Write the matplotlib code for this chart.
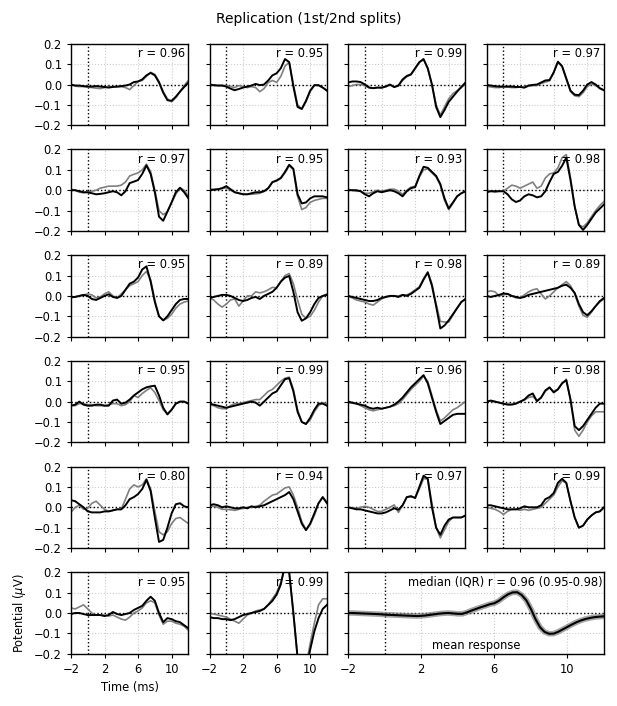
import numpy as np
import matplotlib
matplotlib.use("Agg")
import matplotlib.pyplot as plt

# time axis of the split averages (ms)
t = np.arange(-2, 12.01, 0.5)
t_mean = np.arange(-2, 12.01, 0.25)

r_values = [0.96, 0.95, 0.99, 0.97,
            0.97, 0.95, 0.93, 0.98,
            0.95, 0.89, 0.98, 0.89,
            0.95, 0.99, 0.96, 0.98,
            0.80, 0.94, 0.97, 0.99,
            0.95, 0.99]

# first split (gray) / second split (black), uV
s1_01 = [0.000, -0.008, -0.010, -0.010, -0.012, -0.015, -0.018, -0.020, -0.015, -0.012, -0.010, -0.012, -0.010, -0.015, -0.025, -0.005, 0.015, 0.020, 0.040, 0.060, 0.050, 0.015, -0.035, -0.070, -0.085, -0.065, -0.035, -0.005, 0.020]
s2_01 = [0.000, -0.005, -0.005, -0.008, -0.010, -0.010, -0.008, -0.010, -0.012, -0.015, -0.012, -0.010, -0.008, -0.005, 0.000, 0.012, 0.015, 0.025, 0.045, 0.057, 0.045, 0.010, -0.040, -0.077, -0.080, -0.060, -0.035, -0.012, 0.010]
s1_02 = [-0.005, -0.005, -0.005, -0.005, -0.005, -0.010, -0.015, -0.005, -0.010, -0.015, -0.010, -0.015, -0.035, -0.020, 0.010, 0.020, 0.010, 0.040, 0.090, 0.110, 0.000, -0.100, -0.120, -0.085, -0.035, -0.005, -0.005, -0.015, -0.030]
s2_02 = [0.000, -0.003, -0.005, -0.005, -0.010, -0.020, -0.028, -0.022, -0.015, -0.010, -0.005, 0.003, -0.003, 0.000, 0.020, 0.045, 0.055, 0.080, 0.125, 0.110, -0.010, -0.110, -0.120, -0.080, -0.030, -0.003, -0.003, -0.015, -0.030]
s1_03 = [-0.010, -0.005, 0.000, 0.000, -0.005, -0.015, -0.018, -0.015, -0.018, -0.010, -0.002, -0.010, -0.008, 0.020, 0.038, 0.048, 0.078, 0.108, 0.123, 0.078, 0.000, -0.100, -0.150, -0.110, -0.070, -0.045, -0.030, -0.015, 0.000]
s2_03 = [0.010, 0.015, 0.015, 0.012, 0.000, -0.015, -0.018, -0.015, -0.015, -0.010, 0.000, -0.013, -0.005, 0.025, 0.042, 0.050, 0.080, 0.110, 0.125, 0.080, 0.000, -0.110, -0.160, -0.125, -0.085, -0.060, -0.035, -0.012, 0.010]
s1_04 = [-0.008, -0.012, -0.015, -0.015, -0.012, -0.012, -0.015, -0.015, -0.012, -0.015, -0.008, -0.005, -0.005, 0.005, 0.012, 0.018, 0.058, 0.110, 0.088, 0.025, -0.035, -0.055, -0.060, -0.040, -0.010, 0.002, -0.005, -0.020, -0.030]
s2_04 = [-0.002, -0.005, -0.008, -0.010, -0.010, -0.010, -0.010, -0.012, -0.012, -0.015, -0.005, -0.002, 0.000, 0.010, 0.020, 0.022, 0.060, 0.112, 0.090, 0.030, -0.030, -0.050, -0.052, -0.030, 0.000, 0.012, 0.000, -0.018, -0.028]
s1_05 = [0.005, 0.000, -0.010, -0.012, -0.010, -0.005, 0.000, 0.010, 0.015, 0.020, 0.020, 0.020, 0.025, 0.040, 0.070, 0.078, 0.085, 0.100, 0.128, 0.090, 0.000, -0.100, -0.120, -0.105, -0.060, -0.020, 0.012, 0.000, -0.030]
s2_05 = [0.000, 0.000, -0.005, -0.010, -0.010, -0.015, -0.020, -0.018, -0.015, -0.010, -0.005, -0.010, -0.025, -0.005, 0.035, 0.042, 0.050, 0.080, 0.122, 0.080, -0.010, -0.130, -0.150, -0.105, -0.060, -0.010, 0.012, -0.010, -0.040]
s1_06 = [0.005, 0.005, 0.005, 0.008, 0.012, 0.000, -0.010, -0.015, -0.018, -0.020, -0.020, -0.018, -0.015, -0.005, 0.010, 0.038, 0.045, 0.058, 0.085, 0.120, 0.100, -0.030, -0.095, -0.085, -0.060, -0.050, -0.045, -0.040, -0.040]
s2_06 = [0.000, 0.002, 0.005, 0.010, 0.020, 0.005, -0.010, -0.015, -0.020, -0.020, -0.015, -0.010, -0.010, -0.005, 0.010, 0.040, 0.048, 0.060, 0.090, 0.125, 0.105, -0.020, -0.065, -0.060, -0.040, -0.030, -0.030, -0.030, -0.035]
s1_07 = [0.005, 0.000, -0.005, -0.005, -0.015, -0.015, -0.008, 0.000, -0.005, 0.000, 0.005, 0.005, -0.005, -0.020, 0.000, 0.015, 0.020, 0.065, 0.100, 0.105, 0.085, 0.065, 0.025, -0.050, -0.095, -0.065, -0.030, -0.015, -0.005]
s2_07 = [0.000, 0.000, 0.000, -0.005, -0.020, -0.030, -0.015, -0.005, -0.010, -0.005, 0.000, -0.005, -0.015, -0.030, -0.005, 0.010, 0.015, 0.070, 0.115, 0.110, 0.090, 0.070, 0.030, -0.040, -0.090, -0.060, -0.030, -0.015, -0.005]
s1_08 = [0.000, -0.005, -0.010, -0.005, -0.005, 0.010, 0.025, 0.020, 0.010, 0.020, 0.030, 0.040, 0.010, 0.020, 0.060, 0.080, 0.085, 0.110, 0.160, 0.175, 0.060, -0.080, -0.170, -0.180, -0.160, -0.130, -0.100, -0.075, -0.055]
s2_08 = [-0.010, -0.005, -0.005, -0.005, -0.005, -0.020, -0.045, -0.058, -0.050, -0.030, -0.020, -0.025, -0.035, -0.030, -0.005, 0.040, 0.080, 0.090, 0.120, 0.160, 0.050, -0.080, -0.170, -0.195, -0.170, -0.140, -0.110, -0.090, -0.070]
s1_09 = [-0.010, -0.005, 0.000, 0.005, 0.010, 0.005, -0.010, -0.005, 0.010, 0.020, 0.000, -0.010, 0.010, 0.030, 0.050, 0.060, 0.070, 0.100, 0.120, 0.080, -0.020, -0.100, -0.120, -0.110, -0.090, -0.060, -0.040, -0.030, -0.025]
s2_09 = [-0.005, -0.005, 0.000, 0.005, 0.000, -0.015, -0.020, -0.010, 0.000, 0.008, -0.005, -0.010, 0.000, 0.030, 0.060, 0.070, 0.090, 0.130, 0.145, 0.070, -0.030, -0.100, -0.120, -0.100, -0.070, -0.040, -0.020, -0.015, -0.015]
s1_10 = [-0.010, -0.020, -0.040, -0.055, -0.040, -0.020, -0.015, -0.050, -0.025, 0.000, 0.000, 0.020, 0.015, 0.020, 0.030, 0.042, 0.040, 0.070, 0.100, 0.110, 0.060, -0.020, -0.090, -0.110, -0.100, -0.070, -0.030, 0.000, 0.010]
s2_10 = [-0.010, -0.005, 0.000, 0.005, 0.005, 0.000, -0.010, -0.020, -0.025, -0.020, -0.010, -0.005, -0.015, 0.000, 0.010, 0.020, 0.040, 0.070, 0.090, 0.098, 0.020, -0.080, -0.122, -0.110, -0.080, -0.040, -0.010, 0.000, 0.005]
s1_11 = [0.000, -0.010, -0.020, -0.025, -0.030, -0.040, -0.045, -0.030, -0.015, -0.005, 0.000, 0.000, 0.000, 0.005, 0.005, 0.015, 0.030, 0.045, 0.085, 0.118, 0.060, -0.040, -0.125, -0.128, -0.128, -0.095, -0.060, -0.030, -0.015]
s2_11 = [0.000, -0.005, -0.010, -0.015, -0.020, -0.025, -0.025, -0.020, -0.010, -0.005, 0.000, 0.000, -0.005, 0.005, 0.000, 0.010, 0.025, 0.040, 0.080, 0.115, 0.050, -0.050, -0.160, -0.145, -0.120, -0.090, -0.060, -0.030, -0.015]
s1_12 = [0.020, 0.025, 0.020, 0.000, 0.005, 0.010, 0.000, -0.010, -0.010, 0.005, 0.020, 0.030, 0.035, 0.010, -0.015, 0.000, 0.020, 0.040, 0.055, 0.070, 0.050, 0.010, -0.050, -0.095, -0.105, -0.080, -0.050, -0.030, -0.015]
s2_12 = [0.000, -0.005, 0.000, 0.005, 0.012, 0.010, 0.000, -0.005, -0.010, -0.005, 0.005, 0.010, 0.015, 0.020, 0.025, 0.030, 0.035, 0.040, 0.050, 0.055, 0.040, 0.015, -0.040, -0.080, -0.095, -0.075, -0.050, -0.025, -0.010]
s1_13 = [-0.020, -0.020, -0.010, -0.010, -0.015, -0.015, -0.020, -0.020, -0.020, -0.015, -0.010, -0.010, -0.020, -0.015, 0.000, 0.030, 0.020, 0.040, 0.055, 0.068, 0.045, 0.005, -0.040, -0.060, -0.040, -0.010, 0.000, 0.000, -0.010]
s2_13 = [-0.020, -0.015, 0.000, -0.015, -0.020, -0.020, -0.015, -0.015, -0.020, -0.020, 0.005, 0.010, -0.010, -0.005, 0.010, 0.030, 0.045, 0.060, 0.070, 0.075, 0.078, 0.030, -0.030, -0.063, -0.040, -0.010, 0.000, 0.000, -0.010]
s1_14 = [-0.015, -0.020, -0.030, -0.035, -0.035, -0.020, -0.010, -0.010, -0.005, 0.000, 0.005, 0.010, 0.010, 0.030, 0.050, 0.060, 0.080, 0.100, 0.115, 0.120, 0.060, -0.040, -0.100, -0.110, -0.090, -0.050, -0.020, -0.005, -0.010]
s2_14 = [-0.010, -0.015, -0.020, -0.025, -0.030, -0.025, -0.020, -0.015, -0.010, -0.005, 0.000, -0.005, -0.020, 0.000, 0.020, 0.040, 0.050, 0.080, 0.110, 0.115, 0.050, -0.050, -0.100, -0.110, -0.080, -0.040, -0.010, -0.010, -0.020]
s1_15 = [-0.005, -0.008, -0.010, -0.020, -0.030, -0.040, -0.045, -0.040, -0.035, -0.030, -0.025, -0.020, -0.010, 0.010, 0.035, 0.060, 0.080, 0.100, 0.125, 0.100, 0.030, -0.040, -0.095, -0.080, -0.060, -0.040, -0.030, -0.015, 0.000]
s2_15 = [0.000, -0.005, -0.010, -0.015, -0.020, -0.030, -0.035, -0.030, -0.035, -0.030, -0.025, -0.015, 0.000, 0.020, 0.045, 0.070, 0.090, 0.110, 0.130, 0.090, 0.020, -0.050, -0.110, -0.095, -0.080, -0.065, -0.060, -0.060, -0.060]
s1_16 = [0.000, 0.005, 0.000, -0.005, -0.010, -0.012, -0.012, -0.008, 0.000, 0.008, 0.020, 0.025, 0.005, 0.020, 0.050, 0.068, 0.050, 0.062, 0.090, 0.110, 0.010, -0.140, -0.170, -0.140, -0.100, -0.070, -0.050, -0.050, -0.050]
s2_16 = [0.000, 0.005, 0.000, -0.005, -0.010, -0.015, -0.015, -0.010, 0.000, 0.010, 0.030, 0.040, 0.002, 0.020, 0.055, 0.070, 0.045, 0.060, 0.090, 0.105, 0.010, -0.120, -0.140, -0.120, -0.090, -0.060, -0.030, -0.010, -0.010]
s1_17 = [-0.025, 0.000, 0.010, -0.010, -0.005, 0.020, 0.030, 0.010, -0.010, -0.020, -0.015, -0.010, -0.010, 0.040, 0.090, 0.110, 0.100, 0.110, 0.140, 0.090, -0.020, -0.120, -0.135, -0.120, -0.080, -0.055, -0.050, -0.065, -0.080]
s2_17 = [0.035, 0.030, 0.015, 0.000, -0.020, -0.025, -0.025, -0.025, -0.020, -0.020, -0.015, -0.010, -0.010, 0.010, 0.040, 0.050, 0.065, 0.090, 0.135, 0.080, -0.050, -0.170, -0.160, -0.100, -0.030, 0.015, 0.020, 0.005, 0.000]
s1_18 = [0.005, 0.005, 0.000, -0.010, -0.010, -0.012, -0.015, -0.010, -0.005, 0.000, 0.000, 0.005, 0.010, 0.030, 0.045, 0.060, 0.065, 0.080, 0.095, 0.100, 0.060, 0.000, -0.070, -0.110, -0.085, -0.040, 0.020, 0.050, 0.025]
s2_18 = [0.010, 0.015, 0.010, 0.000, 0.005, 0.000, -0.005, -0.005, 0.000, -0.005, 0.005, 0.000, 0.005, 0.010, 0.020, 0.030, 0.040, 0.050, 0.060, 0.075, 0.040, -0.020, -0.080, -0.112, -0.080, -0.030, 0.020, 0.050, 0.020]
s1_19 = [0.000, -0.002, -0.005, 0.000, 0.005, 0.000, -0.010, -0.020, -0.020, -0.010, 0.000, 0.012, -0.025, 0.010, 0.050, 0.050, 0.050, 0.090, 0.140, 0.140, 0.020, -0.100, -0.150, -0.110, -0.070, -0.050, -0.050, -0.050, -0.040]
s2_19 = [0.000, -0.005, -0.010, -0.010, -0.015, -0.020, -0.025, -0.030, -0.030, -0.025, -0.015, -0.005, -0.012, 0.010, 0.050, 0.055, 0.045, 0.100, 0.155, 0.140, 0.000, -0.100, -0.135, -0.090, -0.060, -0.050, -0.050, -0.050, -0.040]
s1_20 = [0.000, -0.005, -0.010, -0.020, -0.035, -0.020, -0.010, -0.010, -0.015, -0.010, -0.015, -0.010, -0.005, 0.000, 0.020, 0.040, 0.060, 0.100, 0.130, 0.120, 0.030, -0.050, -0.100, -0.090, -0.060, -0.040, -0.025, -0.020, 0.000]
s2_20 = [0.010, 0.010, 0.005, 0.000, -0.005, -0.010, -0.010, -0.010, -0.005, 0.005, 0.000, 0.000, 0.000, 0.010, 0.040, 0.050, 0.070, 0.120, 0.140, 0.120, 0.030, -0.050, -0.100, -0.090, -0.060, -0.040, -0.025, -0.020, 0.000]
s1_21 = [0.025, 0.020, 0.030, 0.040, 0.020, 0.000, -0.010, -0.010, -0.010, -0.015, -0.010, -0.020, -0.030, -0.035, -0.020, 0.000, 0.010, 0.025, 0.050, 0.060, 0.050, -0.010, -0.055, -0.040, -0.040, -0.050, -0.055, -0.065, -0.085]
s2_21 = [-0.005, 0.000, 0.000, -0.005, -0.010, -0.010, -0.010, -0.010, -0.015, -0.010, 0.005, -0.005, -0.010, -0.005, 0.000, 0.015, 0.025, 0.035, 0.060, 0.080, 0.060, 0.000, -0.045, -0.025, -0.030, -0.040, -0.045, -0.060, -0.075]
s1_22 = [0.000, -0.005, -0.010, -0.015, -0.020, -0.030, -0.040, -0.050, -0.030, -0.010, 0.000, 0.010, 0.015, 0.020, 0.040, 0.070, 0.100, 0.150, 0.220, 0.200, 0.000, -0.220, -0.300, -0.260, -0.150, -0.050, 0.040, 0.070, 0.070]
s2_22 = [-0.020, -0.025, -0.025, -0.030, -0.030, -0.035, -0.030, -0.020, -0.010, -0.005, 0.000, 0.005, 0.010, 0.020, 0.040, 0.060, 0.090, 0.140, 0.240, 0.200, 0.000, -0.220, -0.320, -0.280, -0.180, -0.090, -0.025, 0.020, 0.040]

mean_resp = [0.000, 0.000, -0.001, -0.002, -0.003, -0.004, -0.005, -0.006, -0.008, -0.009,
             -0.010, -0.011, -0.012, -0.013, -0.014, -0.015, -0.014, -0.012, -0.009, -0.006,
             -0.003, -0.001, 0.000, -0.002, -0.004, -0.004, 0.003, 0.012, 0.020, 0.028,
             0.035, 0.043, 0.048, 0.060, 0.077, 0.092, 0.101, 0.102, 0.088, 0.062,
             0.020, -0.030, -0.070, -0.093, -0.102, -0.101, -0.092, -0.080, -0.068, -0.056,
             -0.045, -0.036, -0.029, -0.024, -0.020, -0.018, -0.016]

first = [s1_01, s1_02, s1_03, s1_04, s1_05, s1_06, s1_07, s1_08, s1_09, s1_10, s1_11,
         s1_12, s1_13, s1_14, s1_15, s1_16, s1_17, s1_18, s1_19, s1_20, s1_21, s1_22]
second = [s2_01, s2_02, s2_03, s2_04, s2_05, s2_06, s2_07, s2_08, s2_09, s2_10, s2_11,
          s2_12, s2_13, s2_14, s2_15, s2_16, s2_17, s2_18, s2_19, s2_20, s2_21, s2_22]

plt.rcParams["font.size"] = 8.3
plt.rcParams["xtick.major.size"] = 3
plt.rcParams["ytick.major.size"] = 3
plt.rcParams["axes.linewidth"] = 1.0
plt.rcParams["lines.solid_joinstyle"] = "round"

fig = plt.figure(figsize=(6.17, 7.06), dpi=100)
gs = fig.add_gridspec(6, 4, left=0.115, right=0.979, top=0.938, bottom=0.074,
                      wspace=0.18, hspace=0.297)


def style(ax, col, bottom_labels):
    ax.set_xlim(-2, 12)
    ax.set_ylim(-0.2, 0.2)
    ax.set_xticks([-2, 2, 6, 10])
    ax.set_yticks([-0.2, -0.1, 0.0, 0.1, 0.2])
    ax.grid(color="0.8", linestyle=":", linewidth=0.8)
    ax.axhline(0, color="k", linestyle=":", linewidth=1)
    ax.axvline(0, color="k", linestyle=":", linewidth=1)
    if col != 0:
        ax.tick_params(labelleft=False)
    if not bottom_labels:
        ax.tick_params(labelbottom=False)


for i in range(22):
    row, col = divmod(i, 4)
    ax = fig.add_subplot(gs[row, col])
    style(ax, col, row == 5)
    ax.plot(t, first[i], color="0.5", linewidth=1.2)
    ax.plot(t, second[i], color="k", linewidth=1.4)
    ax.text(0.97, 0.96, f"r = {r_values[i]:.2f}", transform=ax.transAxes,
            ha="right", va="top")
    if i == 20:
        ax.set_xlabel("Time (ms)")
        ax.set_ylabel("Potential ($\\mu$V)")

ax = fig.add_subplot(gs[5, 2:])
style(ax, 2, True)
ax.plot(t_mean, mean_resp, color="0.5", linewidth=4, alpha=0.7)
ax.plot(t_mean, mean_resp, color="k", linewidth=1.5)
ax.text(0.995, 0.96, "median (IQR) r = 0.96 (0.95-0.98)", transform=ax.transAxes,
        ha="right", va="top")
ax.text(0.5, 0.1, "mean response", transform=ax.transAxes, ha="center", va="center")

fig.text(0.5, 0.973, "Replication (1st/2nd splits)", ha="center", va="center", fontsize=10)

fig.savefig("out.png", dpi=100)
